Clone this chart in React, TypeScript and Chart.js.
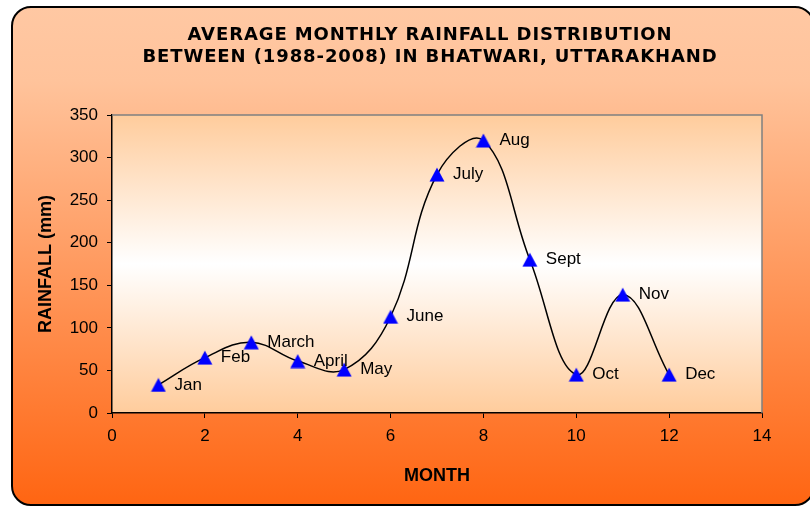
import { useEffect, useRef } from "react";
import { Chart, registerables } from "chart.js";

Chart.register(...registerables);

// Average monthly rainfall, Bhatwari (1988-2008)
const months = [1, 2, 3, 4, 5, 6, 7, 8, 9, 10, 11, 12];
const monthNames = ["Jan", "Feb", "March", "April", "May", "June", "July", "Aug", "Sept", "Oct", "Nov", "Dec"];
const rainfall = [33, 65, 83, 61, 51, 113, 280, 320, 180, 45, 139, 45];

const xMin = 0;
const xMax = 14;
const xStep = 2;
const yMin = 0;
const yMax = 350;
const yStep = 50;

const titleLines = [
  "AVERAGE MONTHLY RAINFALL DISTRIBUTION",
  "BETWEEN (1988-2008) IN BHATWARI, UTTARAKHAND",
];
const xTitle = "MONTH";
const yTitle = "RAINFALL (mm)";

const SANS = "'Liberation Sans', Arial, sans-serif";
const TITLE_FONT = "'DejaVu Sans', Verdana, sans-serif";

function roundRect(ctx: CanvasRenderingContext2D, x: number, y: number, w: number, h: number, r: number) {
  ctx.beginPath();
  ctx.moveTo(x + r, y);
  ctx.lineTo(x + w - r, y);
  ctx.arcTo(x + w, y, x + w, y + r, r);
  ctx.lineTo(x + w, y + h - r);
  ctx.arcTo(x + w, y + h, x + w - r, y + h, r);
  ctx.lineTo(x + r, y + h);
  ctx.arcTo(x, y + h, x, y + h - r, r);
  ctx.lineTo(x, y + r);
  ctx.arcTo(x, y, x + r, y, r);
  ctx.closePath();
}

const decorations = {
  id: "decorations",
  beforeDraw(chart: any) {
    const { ctx, chartArea: a, width, height } = chart;
    ctx.save();
    ctx.fillStyle = "#ffffff";
    ctx.fillRect(0, 0, width, height);

    // outer rounded panel
    const bg = ctx.createLinearGradient(0, 7, 0, 505);
    bg.addColorStop(0, "#FFC8A3");
    bg.addColorStop(0.15, "#FFC39B");
    bg.addColorStop(1, "#FF6512");
    roundRect(ctx, 12, 7, 802, 498, 19);
    ctx.fillStyle = bg;
    ctx.fill();
    ctx.lineWidth = 2;
    ctx.strokeStyle = "#000000";
    ctx.stroke();

    // plot area
    const pg = ctx.createLinearGradient(0, a.top, 0, a.bottom);
    pg.addColorStop(0, "#FFCC9C");
    pg.addColorStop(0.5, "#FFFFFF");
    pg.addColorStop(1, "#FFCC9C");
    ctx.fillStyle = pg;
    ctx.fillRect(a.left, a.top, a.right - a.left, a.bottom - a.top);
    ctx.restore();
  },
  afterDatasetsDraw(chart: any) {
    const { ctx } = chart;
    const meta = chart.getDatasetMeta(0);
    ctx.save();
    ctx.fillStyle = "#000000";
    ctx.font = `17px ${SANS}`;
    ctx.textAlign = "left";
    ctx.textBaseline = "middle";
    meta.data.forEach((pt: any, i: number) => {
      ctx.fillText(monthNames[i], pt.x + 16, pt.y);
    });
    ctx.restore();
  },
  afterDraw(chart: any) {
    const { ctx, chartArea: a } = chart;
    ctx.save();
    // grey frame on the top and right of the plot area
    ctx.strokeStyle = "#808080";
    ctx.lineWidth = 1.5;
    ctx.beginPath();
    ctx.moveTo(a.left, a.top);
    ctx.lineTo(a.right, a.top);
    ctx.lineTo(a.right, a.bottom);
    ctx.stroke();

    ctx.fillStyle = "#000000";
    ctx.textAlign = "center";
    ctx.textBaseline = "middle";
    ctx.font = `bold 18px ${TITLE_FONT}`;
    (ctx as any).letterSpacing = "0.9px";
    ctx.fillText(titleLines[0], 430, 35);
    ctx.fillText(titleLines[1], 430, 57);
    (ctx as any).letterSpacing = "0px";

    ctx.font = `bold 18px ${SANS}`;
    ctx.fillText(xTitle, (a.left + a.right) / 2, 476);
    ctx.translate(46, (a.top + a.bottom) / 2);
    ctx.rotate(-Math.PI / 2);
    ctx.fillText(yTitle, 0, 0);
    ctx.restore();
  },
};

export default function App() {
  const ref = useRef<HTMLCanvasElement>(null);

  useEffect(() => {
    const canvas = ref.current;
    if (!canvas) return;

    const marker = document.createElement("canvas");
    marker.width = 16;
    marker.height = 15;
    const m = marker.getContext("2d")!;
    m.fillStyle = "#0000FF";
    m.beginPath();
    m.moveTo(8, 0.5);
    m.lineTo(15.5, 14.5);
    m.lineTo(0.5, 14.5);
    m.closePath();
    m.fill();

    const tickFont = { family: SANS, size: 17 };

    const chart = new Chart(canvas, {
      type: "line",
      data: {
        datasets: [
          {
            data: months.map((mo, i) => ({ x: mo, y: rainfall[i] })),
            borderColor: "#000000",
            borderWidth: 1.5,
            tension: 0.4,
            fill: false,
            pointStyle: marker as any,
            pointRadius: 8,
            clip: false as any,
          },
        ],
      },
      options: {
        responsive: false,
        animation: false,
        devicePixelRatio: 1,
        layout: { padding: { left: 0, top: 115, right: 48, bottom: 0 } },
        plugins: { legend: { display: false }, tooltip: { enabled: false }, title: { display: false } },
        scales: {
          x: {
            type: "linear",
            min: xMin,
            max: xMax,
            ticks: { stepSize: xStep, color: "#000000", font: tickFont, padding: 8 },
            grid: { drawOnChartArea: false, color: "#000000", tickLength: 5 },
            border: { color: "#000000", width: 1.5 },
            afterFit: (s: any) => {
              s.height = 95;
            },
          },
          y: {
            type: "linear",
            min: yMin,
            max: yMax,
            ticks: { stepSize: yStep, color: "#000000", font: tickFont, padding: 9 },
            grid: { drawOnChartArea: false, color: "#000000", tickLength: 5 },
            border: { color: "#000000", width: 1.5 },
            afterFit: (s: any) => {
              s.width = 112;
            },
          },
        },
      },
      plugins: [decorations],
    });

    return () => chart.destroy();
  }, []);

  return (
    <div style={{ position: "fixed", left: 0, top: 0, width: 810, height: 508 }}>
      <canvas ref={ref} width={810} height={508} />
    </div>
  );
}
